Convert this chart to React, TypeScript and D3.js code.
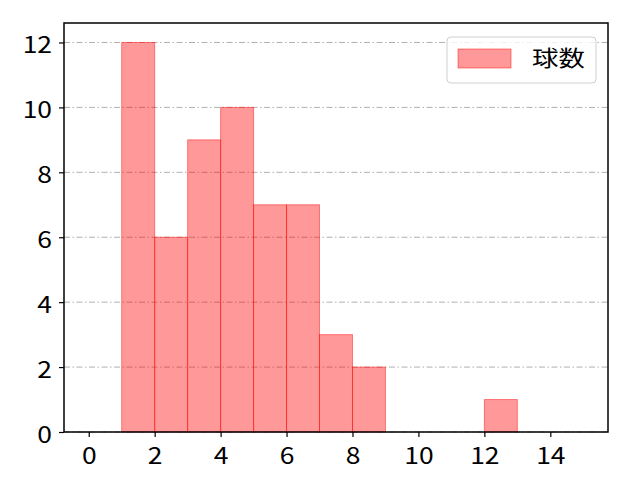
import React, { useRef, useEffect } from 'react';
import * as d3 from 'd3';

// histogram bins (left edge, width 1) and counts
const binStarts = [1, 2, 3, 4, 5, 6, 7, 8, 12];
const binCounts = [12, 6, 9, 10, 7, 7, 3, 2, 1];
const xTicks = [0, 2, 4, 6, 8, 10, 12, 14];
const yTicks = [0, 2, 4, 6, 8, 10, 12];
const seriesName = '球数';

export default function App() {
  const svgRef = useRef<SVGSVGElement>(null);

  useEffect(() => {
    if (!svgRef.current) return;
    const W = 640, H = 480;
    const margin = { top: 23, right: 32, bottom: 48, left: 64 };
    const width = W - margin.left - margin.right;
    const height = H - margin.top - margin.bottom;
    const font = "'Noto Sans CJK JP', 'DejaVu Sans', sans-serif";
    const stretch = 1.15; // the source image text is a bit wider than tall

    const svg = d3.select(svgRef.current);
    svg.selectAll('*').remove();

    const chart = svg.append('g').attr('transform', `translate(${margin.left},${margin.top})`);

    const x = d3.scaleLinear().domain([-0.75, 15.75]).range([0, width]);
    const y = d3.scaleLinear().domain([0, 12.6]).range([height, 0]);

    // horizontal grid, dash-dot, behind bars
    chart.append('g')
      .selectAll('line')
      .data(yTicks)
      .enter()
      .append('line')
      .attr('x1', 0)
      .attr('x2', width)
      .attr('y1', d => y(d))
      .attr('y2', d => y(d))
      .attr('stroke', '#b0b0b0')
      .attr('stroke-width', 1)
      .attr('stroke-dasharray', '6 2.5 1.5 2.5');

    // bars
    chart.append('g')
      .selectAll('rect')
      .data(binStarts.map((s, i) => ({ s, c: binCounts[i] })))
      .enter()
      .append('rect')
      .attr('x', d => x(d.s))
      .attr('y', d => y(d.c))
      .attr('width', d => x(d.s + 1) - x(d.s))
      .attr('height', d => height - y(d.c))
      .attr('fill', 'rgba(255,0,0,0.4)')
      .attr('stroke', 'rgba(255,0,0,0.45)')
      .attr('stroke-width', 1);

    // axes
    const xAxis = chart.append('g')
      .attr('transform', `translate(0,${height})`)
      .call(d3.axisBottom(x).tickValues(xTicks).tickSize(5).tickFormat(d3.format('d')));
    const yAxis = chart.append('g')
      .call(d3.axisLeft(y).tickValues(yTicks).tickSize(5).tickFormat(d3.format('d')));

    [xAxis, yAxis].forEach(a => {
      a.select('.domain').remove();
      a.selectAll('.tick line').attr('stroke', '#000').attr('stroke-width', 1.2);
      a.selectAll('text')
        .attr('fill', '#000')
        .style('font-size', '23px')
        .style('font-family', font);
    });

    xAxis.selectAll('.tick text')
      .attr('x', 0)
      .attr('y', 0)
      .attr('dy', 0)
      .attr('transform', `translate(0,31.5) scale(${stretch},1)`);
    yAxis.selectAll('.tick text')
      .attr('x', 0)
      .attr('y', 0)
      .attr('dy', 0)
      .attr('transform', `translate(-12,10) scale(${stretch},1)`);

    // frame
    chart.append('rect')
      .attr('x', 0)
      .attr('y', 0)
      .attr('width', width)
      .attr('height', height)
      .attr('fill', 'none')
      .attr('stroke', '#000')
      .attr('stroke-width', 1.5);

    // legend
    const legend = chart.append('g').attr('transform', `translate(${width - 161},14)`);
    legend.append('rect')
      .attr('width', 149)
      .attr('height', 46)
      .attr('rx', 4)
      .attr('fill', 'rgba(255,255,255,0.8)')
      .attr('stroke', '#d0d0d0')
      .attr('stroke-width', 1);
    legend.append('rect')
      .attr('x', 11)
      .attr('y', 12)
      .attr('width', 53)
      .attr('height', 19)
      .attr('fill', 'rgba(255,0,0,0.4)')
      .attr('stroke', 'rgba(255,0,0,0.45)');
    legend.append('text')
      .attr('transform', `translate(85,28.5) scale(1.2,1)`)
      .attr('fill', '#000')
      .style('font-size', '22px')
      .style('font-family', font)
      .text(seriesName);
  }, []);

  return (
    <div style={{ position: 'fixed', left: 0, top: 0 }}>
      <svg ref={svgRef} width={640} height={480} style={{ display: 'block', background: '#fff' }}></svg>
    </div>
  );
}
